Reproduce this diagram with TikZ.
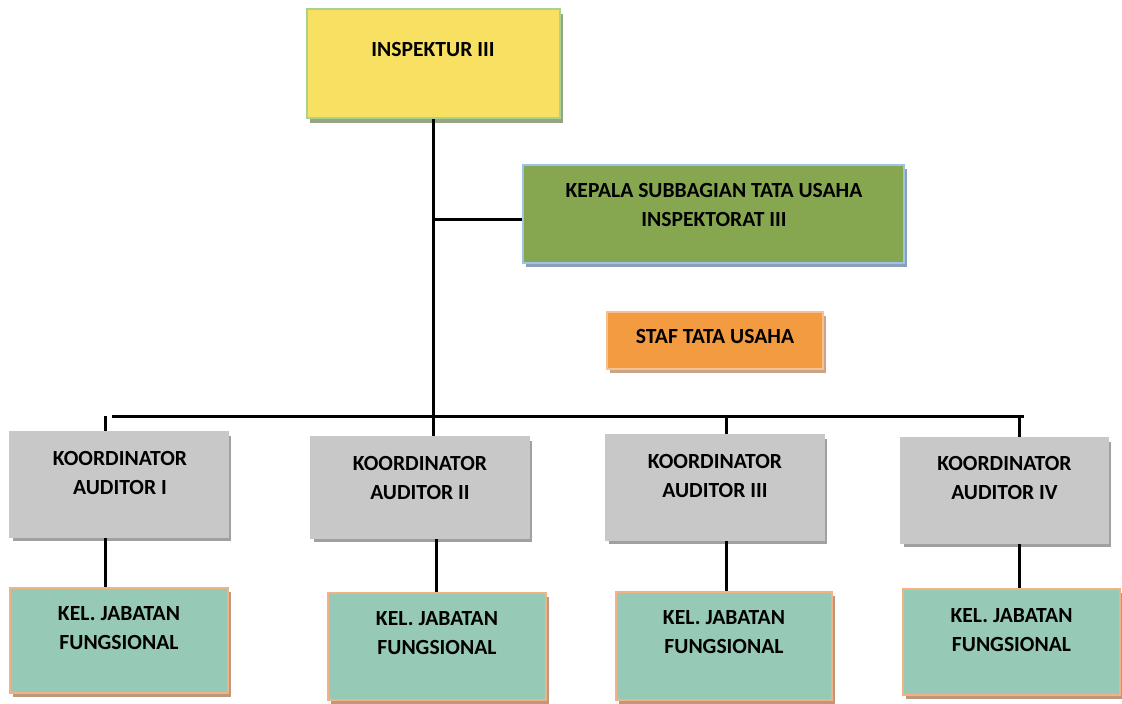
\documentclass[tikz,border=0pt]{standalone}
\usepackage{fontspec}
\setmainfont{Carlito}
\usetikzlibrary{shadows,calc}
\definecolor{yelF}{RGB}{248,224,98}
\definecolor{yelB}{RGB}{170,210,142}
\definecolor{yelS}{RGB}{152,165,132}
\definecolor{grnF}{RGB}{134,167,80}
\definecolor{grnB}{RGB}{157,195,230}
\definecolor{grnS}{RGB}{140,160,185}
\definecolor{orgF}{RGB}{242,155,65}
\definecolor{orgB}{RGB}{248,192,145}
\definecolor{orgS}{RGB}{200,165,135}
\definecolor{gryF}{RGB}{200,200,200}
\definecolor{gryS}{RGB}{160,160,160}
\definecolor{tealF}{RGB}{150,201,182}
\definecolor{tealB}{RGB}{244,177,131}
\definecolor{tealS}{RGB}{190,152,126}
\tikzset{
  box/.style={rectangle, inner sep=0pt, line width=2.5pt},
  yelbox/.style={box, fill=yelF, draw=yelB, drop shadow={shadow xshift=3pt, shadow yshift=-5pt, fill=yelS, opacity=1}},
  grnbox/.style={box, fill=grnF, draw=grnB, drop shadow={shadow xshift=3pt, shadow yshift=-4pt, fill=grnS, opacity=1}},
  orgbox/.style={box, fill=orgF, draw=orgB, drop shadow={shadow xshift=3pt, shadow yshift=-4pt, fill=orgS, opacity=1}},
  grybox/.style={box, fill=gryF, draw=gryF, drop shadow={shadow xshift=3pt, shadow yshift=-4pt, fill=gryS, opacity=1}},
  tealbox/.style={box, fill=tealF, draw=tealB, drop shadow={shadow xshift=3pt, shadow yshift=-4pt, fill=tealS, opacity=1}},
  txt/.style={inner sep=0pt, align=center, font=\fontsize{21.6}{29}\selectfont\bfseries},
  conn/.style={line width=3pt, black}
}
\begin{document}
\begin{tikzpicture}[x=1pt, y=-1pt]
\useasboundingbox (0,0) rectangle (1122,704);
% boxes
\node[yelbox, minimum width=253pt, minimum height=109pt] (insp) at (433.5,63.5) {};
\node[txt] (inspT) at (433,49) {INSPEKTUR III};
\node[grnbox, minimum width=381pt, minimum height=98pt] (kasub) at (713.5,214) {};
\node[txt] (kasubT) at (714,205) {KEPALA SUBBAGIAN TATA USAHA\\INSPEKTORAT III};
\node[orgbox, minimum width=216pt, minimum height=57pt] (staf) at (715,340.5) {};
\node[txt] (stafT) at (715,336) {STAF TATA USAHA};
% koordinator
\node[grybox, minimum width=218pt, minimum height=105pt] (k1) at (119,484.5) {};
\node[txt] (k1T) at (120,473) {KOORDINATOR\\AUDITOR I};
\node[grybox, minimum width=218pt, minimum height=101pt] (k2) at (420,487.5) {};
\node[txt] (k2T) at (420,477.5) {KOORDINATOR\\AUDITOR II};
\node[grybox, minimum width=218pt, minimum height=105pt] (k3) at (715,487.5) {};
\node[txt] (k3T) at (715,476) {KOORDINATOR\\AUDITOR III};
\node[grybox, minimum width=207pt, minimum height=105pt] (k4) at (1004.5,490.5) {};
\node[txt] (k4T) at (1004.5,478) {KOORDINATOR\\AUDITOR IV};
% jabatan fungsional
\node[tealbox, minimum width=218pt, minimum height=105pt] (j1) at (119,640.5) {};
\node[txt] (j1T) at (119,628) {KEL. JABATAN\\FUNGSIONAL};
\node[tealbox, minimum width=218pt, minimum height=107pt] (j2) at (437,646.5) {};
\node[txt] (j2T) at (437,633) {KEL. JABATAN\\FUNGSIONAL};
\node[tealbox, minimum width=216pt, minimum height=108pt] (j3) at (724,646) {};
\node[txt] (j3T) at (724,632.5) {KEL. JABATAN\\FUNGSIONAL};
\node[tealbox, minimum width=217pt, minimum height=106pt] (j4) at (1011.5,642) {};
\node[txt] (j4T) at (1011.5,630.5) {KEL. JABATAN\\FUNGSIONAL};
% bus coordinates
\coordinate (busL) at (112,416);
\coordinate (busR) at (1024,416);
\coordinate (t1) at (105,416);
\coordinate (t3) at (726,416);
\coordinate (t4) at (1019,416);
\coordinate (t2) at (436,416);
% connectors
\draw[conn] (insp.south) -- (insp.south |- k2.north);
\draw[conn] (insp.south |- {$(kasub.west)+(0,5)$}) -- ($(kasub.west)+(0,5)$);
\draw[conn] (busL) -- (busR);
\draw[conn] (t1) -- (t1 |- k1.north);
\draw[conn] (t3) -- (t3 |- k3.north);
\draw[conn] (t4) -- (t4 |- k4.north);
\draw[conn] (t1 |- k1.south) -- (t1 |- j1.north);
\draw[conn] (t2 |- k2.south) -- (t2 |- j2.north);
\draw[conn] (t3 |- k3.south) -- (t3 |- j3.north);
\draw[conn] (t4 |- k4.south) -- (t4 |- j4.north);
\end{tikzpicture}
\end{document}
